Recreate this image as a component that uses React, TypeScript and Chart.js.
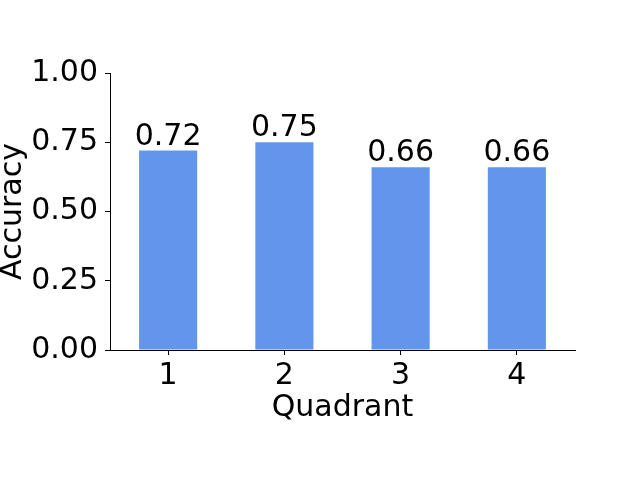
import React, { useEffect, useRef } from "react";
import { Chart, registerables } from "chart.js";

Chart.register(...registerables);

const categories = ["1", "2", "3", "4"];
const accuracy = [0.72, 0.75, 0.66, 0.66];
const yTicks = [0, 0.25, 0.5, 0.75, 1.0];

const FONT = "DejaVu Sans";
const FS = 30;

const valueLabels = {
  id: "valueLabels",
  afterDatasetsDraw(chart: any) {
    const { ctx } = chart;
    const meta = chart.getDatasetMeta(0);
    ctx.save();
    ctx.font = `${FS}px "${FONT}"`;
    ctx.fillStyle = "#000";
    ctx.textAlign = "center";
    ctx.textBaseline = "alphabetic";
    meta.data.forEach((bar: any, i: number) => {
      ctx.fillText(accuracy[i].toFixed(2), bar.x, bar.y - 6);
    });
    ctx.restore();
  },
};

export default function App() {
  const ref = useRef<HTMLCanvasElement | null>(null);
  useEffect(() => {
    if (!ref.current) return;
    const chart = new Chart(ref.current, {
      type: "bar",
      data: {
        labels: categories,
        datasets: [
          {
            data: accuracy,
            backgroundColor: "#6495ED",
            borderWidth: 0,
            categoryPercentage: 1,
            barPercentage: 0.5,
          },
        ],
      },
      options: {
        animation: false,
        responsive: true,
        maintainAspectRatio: false,
        layout: { padding: { left: 0, top: 73, right: 65, bottom: 0 } },
        plugins: { legend: { display: false }, tooltip: { enabled: false } },
        scales: {
          x: {
            offset: true,
            grid: {
              offset: false,
              drawOnChartArea: false,
              drawTicks: true,
              tickLength: 5,
              color: "#000",
              lineWidth: 1,
            },
            border: { display: true, color: "#000", width: 1 },
            ticks: {
              color: "#000",
              font: { family: FONT, size: FS },
              padding: 3,
              maxRotation: 0,
            },
            title: {
              display: true,
              text: "Quadrant",
              color: "#000",
              font: { family: FONT, size: FS, lineHeight: 1 },
              padding: { top: 0, bottom: 57 },
            },
            afterFit(scale: any) {
              scale.height = 130;
            },
          },
          y: {
            min: 0,
            max: 1,
            afterBuildTicks(scale: any) {
              scale.ticks = yTicks.map((v) => ({ value: v }));
            },
            grid: {
              drawOnChartArea: false,
              drawTicks: true,
              tickLength: 5,
              color: "#000",
              lineWidth: 1,
            },
            border: { display: true, color: "#000", width: 1 },
            ticks: {
              color: "#000",
              font: { family: FONT, size: FS },
              padding: 7,
              callback: (v: any) => Number(v).toFixed(2),
            },
            title: {
              display: true,
              text: "Accuracy",
              color: "#000",
              font: { family: FONT, size: FS, lineHeight: 1 },
              padding: { top: -2, bottom: 0 },
            },
            afterFit(scale: any) {
              scale.width = 110;
            },
          },
        },
      },
      plugins: [valueLabels],
    });
    return () => chart.destroy();
  }, []);
  return (
    <div style={{ position: "fixed", left: 0, top: 0, width: 640, height: 480, background: "#fff" }}>
      <canvas ref={ref} />
    </div>
  );
}
